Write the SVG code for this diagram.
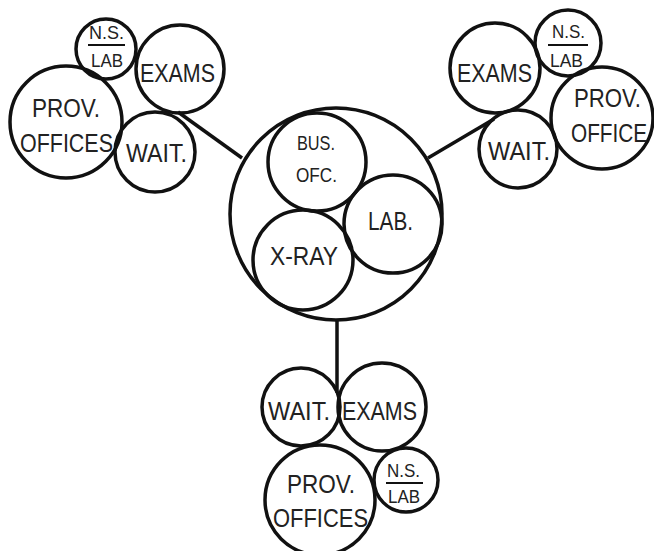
<svg xmlns="http://www.w3.org/2000/svg" width="654" height="551" viewBox="0 0 654 551">
<style>
circle{fill:none;stroke:#111;stroke-width:3.5}
line{stroke:#111;stroke-width:3.5}
.div{stroke-width:2}
text{font-family:"Liberation Sans",Arial,sans-serif;fill:#222;text-anchor:start}
.l{font-size:26px}
.s{font-size:18px}
.m{font-size:21px}
</style>
<rect width="654" height="551" fill="#fff"/>
<g id="connectors">
<line x1="178" y1="112" x2="242" y2="158"/>
<line x1="494" y1="119" x2="428" y2="158"/>
<line x1="337" y1="320" x2="337" y2="393"/>
</g>
<g id="center">
<circle cx="336" cy="214" r="106"/>
</g>
<g id="bus-ofc">
<circle cx="317" cy="162" r="49"/>
<text class="m" x="297" y="150" textLength="38" lengthAdjust="spacingAndGlyphs">BUS.</text>
<text class="m" x="296" y="182" textLength="41" lengthAdjust="spacingAndGlyphs">OFC.</text>
</g>
<g id="lab">
<circle cx="393" cy="224" r="49"/>
<text class="l" x="368" y="230" textLength="45" lengthAdjust="spacingAndGlyphs">LAB.</text>
</g>
<g id="xray">
<circle cx="303" cy="260" r="50"/>
<text class="l" x="270" y="265" textLength="68" lengthAdjust="spacingAndGlyphs">X-RAY</text>
</g>
<g id="tl-ns-lab">
<circle cx="106" cy="49" r="30"/>
<text class="s" x="89" y="39" textLength="35" lengthAdjust="spacingAndGlyphs">N.S.</text>
<line class="div" x1="88" y1="45" x2="125" y2="45"/>
<text class="s" x="91" y="67" textLength="32" lengthAdjust="spacingAndGlyphs">LAB</text>
</g>
<g id="tl-exams">
<circle cx="180" cy="69" r="44"/>
<text class="l" x="140" y="82" textLength="75" lengthAdjust="spacingAndGlyphs">EXAMS</text>
</g>
<g id="tl-prov">
<circle cx="66" cy="122" r="56"/>
<text class="l" x="32" y="117" textLength="68" lengthAdjust="spacingAndGlyphs">PROV.</text>
<text class="l" x="20" y="152" textLength="93" lengthAdjust="spacingAndGlyphs">OFFICES</text>
</g>
<g id="tl-wait">
<circle cx="155" cy="152" r="40"/>
<text class="l" x="126" y="162" textLength="61" lengthAdjust="spacingAndGlyphs">WAIT.</text>
</g>
<g id="tr-exams">
<circle cx="495" cy="68" r="45"/>
<text class="l" x="457" y="82" textLength="75" lengthAdjust="spacingAndGlyphs">EXAMS</text>
</g>
<g id="tr-ns-lab">
<circle cx="568" cy="43" r="33"/>
<text class="s" x="552" y="38" textLength="33" lengthAdjust="spacingAndGlyphs">N.S.</text>
<line class="div" x1="548" y1="45" x2="588" y2="45"/>
<text class="s" x="550" y="67" textLength="33" lengthAdjust="spacingAndGlyphs">LAB</text>
</g>
<g id="tr-prov">
<circle cx="602" cy="118" r="51"/>
<text class="l" x="574" y="107" textLength="67" lengthAdjust="spacingAndGlyphs">PROV.</text>
<text class="l" transform="translate(571,142) scale(0.8,1)">OFFICE</text>
</g>
<g id="tr-wait">
<circle cx="518" cy="149" r="39"/>
<text class="l" x="488" y="160" textLength="62" lengthAdjust="spacingAndGlyphs">WAIT.</text>
</g>
<g id="b-wait">
<circle cx="301" cy="407" r="39"/>
<text class="l" x="268" y="420" textLength="62" lengthAdjust="spacingAndGlyphs">WAIT.</text>
</g>
<g id="b-exams">
<circle cx="382" cy="407" r="44"/>
<text class="l" x="342" y="420" textLength="75" lengthAdjust="spacingAndGlyphs">EXAMS</text>
</g>
<g id="b-prov">
<circle cx="320" cy="500" r="55"/>
<text class="l" x="287" y="493" textLength="68" lengthAdjust="spacingAndGlyphs">PROV.</text>
<text class="l" x="273" y="527" textLength="95" lengthAdjust="spacingAndGlyphs">OFFICES</text>
</g>
<g id="b-ns-lab">
<circle cx="406" cy="480" r="32"/>
<text class="s" x="387" y="477" textLength="33" lengthAdjust="spacingAndGlyphs">N.S.</text>
<line class="div" x1="386" y1="483" x2="423" y2="483"/>
<text class="s" x="388" y="503" textLength="32" lengthAdjust="spacingAndGlyphs">LAB</text>
</g>
</svg>
